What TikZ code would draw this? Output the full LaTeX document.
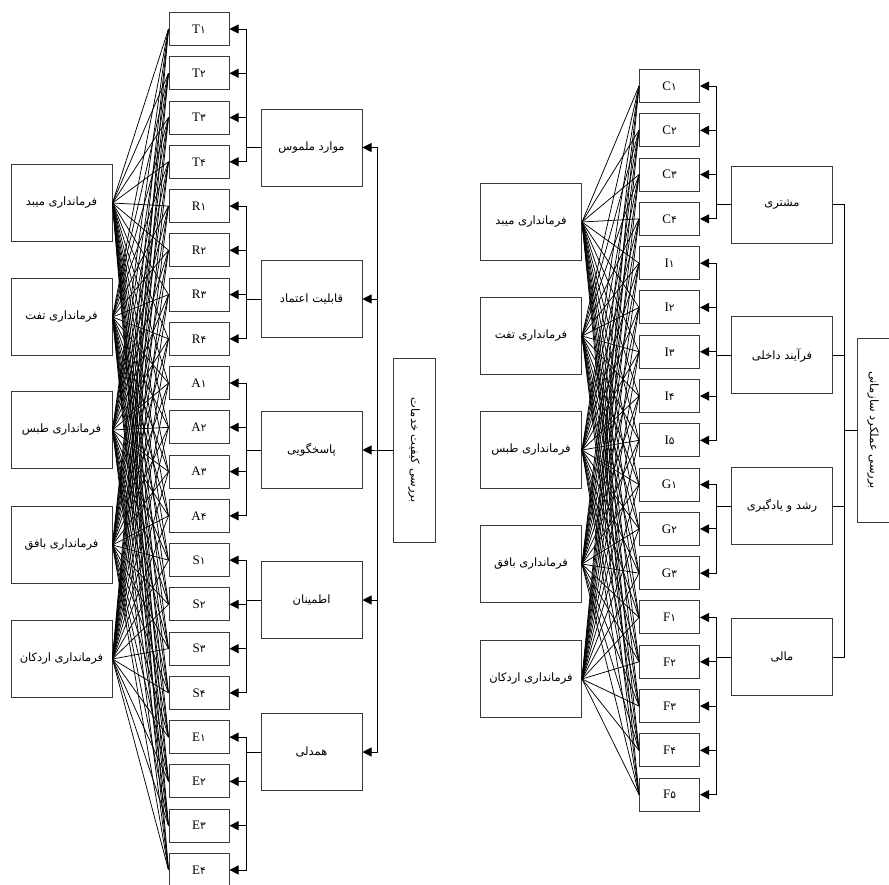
\documentclass[tikz,border=0pt]{standalone}
\usepackage{fontspec}
\setmainfont{Liberation Serif}
\newfontfamily\fa[Script=Arabic]{DejaVu Sans}
\TeXXeTstate=1
\usetikzlibrary{arrows.meta}
\definecolor{boxgray}{HTML}{3A3A3A}
\newcommand{\fat}[1]{{\fa\fontsize{11.5}{13}\selectfont\beginR #1\endR}}
\newcommand{\indl}[2]{{\fontsize{13}{15}\selectfont #1{\fa\fontsize{10.5}{12}\selectfont #2}}}
\begin{document}
\begin{tikzpicture}[x=1pt,y=-1pt,
  bx/.style={draw=boxgray, line width=1pt, inner sep=0pt, fill=white},
  indbox/.style={bx, minimum width=60pt, minimum height=33pt},
  facbox/.style={bx, minimum width=101pt, minimum height=77pt},
  govbox/.style={bx, minimum width=101pt, minimum height=77pt},
  fan/.style={line width=0.75pt, black},
  arr/.style={line width=0.9pt, black, -{Triangle[length=9pt,width=9pt]}},
  plain/.style={line width=0.9pt, black}]
\useasboundingbox (0,0) rectangle (889,884);
\fill[white] (0,0) rectangle (889,884);

% ---------------- LEFT DIAGRAM ----------------
\foreach \l/\d [count=\i] in {T/۱,T/۲,T/۳,T/۴,R/۱,R/۲,R/۳,R/۴,A/۱,A/۲,A/۳,A/۴,S/۱,S/۲,S/۳,S/۴,E/۱,E/۲,E/۳,E/۴}
  \node[indbox] (L\i) at (199, {29+(\i-1)*44.26}) {\indl{\l}{\d}};

\node[govbox] (GL1) at (61.5,203) {\fat{فرمانداری میبد}};
\node[govbox] (GL2) at (61.5,317) {\fat{فرمانداری تفت}};
\node[govbox] (GL3) at (61.5,430) {\fat{فرمانداری طبس}};
\node[govbox] (GL4) at (61.5,545) {\fat{فرمانداری بافق}};
\node[govbox] (GL5) at (61.5,659) {\fat{فرمانداری اردکان}};

\node[facbox] (FL1) at (311.5,147.5) {\fat{موارد ملموس}};
\node[facbox] (FL2) at (311.5,299) {\fat{قابلیت اعتماد}};
\node[facbox] (FL3) at (311.5,450) {\fat{پاسخگویی}};
\node[facbox] (FL4) at (311.5,600) {\fat{اطمینان}};
\node[facbox] (FL5) at (311.5,752) {\fat{همدلی}};

\node[bx, minimum width=42pt, minimum height=184pt] (TL) at (414,450) {};
\node[rotate=-90] at (TL.center) {\fat{بررسی کیفیت خدمات}};

\foreach \g in {1,...,5}
  \foreach \i in {1,...,20}
    \draw[fan] (GL\g.east) -- (L\i.west);

\foreach \f/\a/\b in {1/1/4,2/5/8,3/9/12,4/13/16,5/17/20}
  \foreach \i in {\a,...,\b}
    \draw[arr] (FL\f.west) -- ++(-14,0) |- (L\i.east);

\foreach \f in {1,...,5}
  \draw[arr] (TL.west) -- ++(-15,0) |- (FL\f.east);

% ---------------- RIGHT DIAGRAM ----------------
\foreach \l/\d [count=\i] in {C/۱,C/۲,C/۳,C/۴,I/۱,I/۲,I/۳,I/۴,I/۵,G/۱,G/۲,G/۳,F/۱,F/۲,F/۳,F/۴,F/۵}
  \node[indbox] (R\i) at (669.5, {86+(\i-1)*44.29}) {\indl{\l}{\d}};

\node[govbox] (GR1) at (531,222) {\fat{فرمانداری میبد}};
\node[govbox] (GR2) at (531,336) {\fat{فرمانداری تفت}};
\node[govbox] (GR3) at (531,450) {\fat{فرمانداری طبس}};
\node[govbox] (GR4) at (531,564) {\fat{فرمانداری بافق}};
\node[govbox] (GR5) at (531,679) {\fat{فرمانداری اردکان}};

\node[facbox] (FR1) at (782,204.5) {\fat{مشتری}};
\node[facbox] (FR2) at (782,355) {\fat{فرآیند داخلی}};
\node[facbox] (FR3) at (782,506) {\fat{رشد و یادگیری}};
\node[facbox] (FR4) at (782,657) {\fat{مالی}};

\node[bx, minimum width=32pt, minimum height=184pt] (TR) at (873,430) {};
\node[rotate=-90] at (TR.center) {\fat{بررسی عملکرد سازمانی}};

\foreach \g in {1,...,5}
  \foreach \i in {1,...,17}
    \draw[fan] (GR\g.east) -- (R\i.west);

\foreach \f/\a/\b in {1/1/4,2/5/9,3/10/12,4/13/17}
  \foreach \i in {\a,...,\b}
    \draw[arr] (FR\f.west) -- ++(-15,0) |- (R\i.east);

\foreach \f in {1,...,4}
  \draw[plain] (FR\f.east) -- ++(11,0) |- (TR.west);
\end{tikzpicture}
\end{document}
